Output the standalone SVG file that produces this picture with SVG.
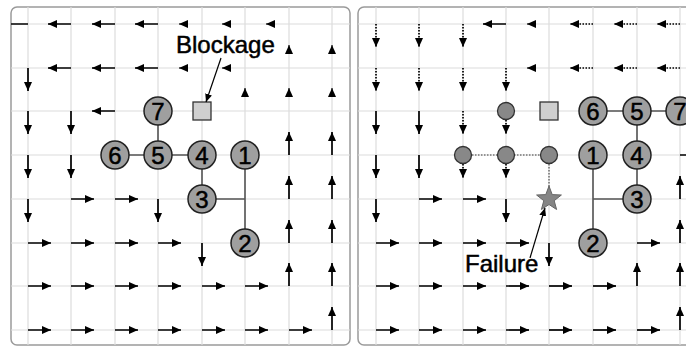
<svg xmlns="http://www.w3.org/2000/svg" width="686" height="346" viewBox="0 0 686 346">
  <defs>
    <marker id="head" markerUnits="userSpaceOnUse" markerWidth="9" markerHeight="8" refX="9" refY="4" orient="auto">
      <path d="M0,0 L9,4 L0,8 Z" fill="#000"/>
    </marker>
    <marker id="head-sm" markerUnits="userSpaceOnUse" markerWidth="8" markerHeight="7" refX="8" refY="3.5" orient="auto">
      <path d="M0,0 L8,3.5 L0,7 Z" fill="#000"/>
    </marker>
    <clipPath id="clip-left"><rect x="11" y="7" width="339" height="338" rx="6"/></clipPath>
    <clipPath id="clip-right"><rect x="358" y="7" width="340" height="338" rx="6"/></clipPath>
  </defs>
  <style>
    .frame { fill: #fff; stroke: #9a9a9a; stroke-width: 1.5; }
    .grid line { stroke: #dcdcdc; stroke-width: 1.2; }
    .flow line { stroke: #000; stroke-width: 1.7; marker-end: url(#head); }
    .flow line.dot { stroke-dasharray: 1.5 1.5; }
    .flow line.short { stroke-width: 1; }
    .link { stroke: #555; stroke-width: 1.6; fill: none; }
    .link.dot { stroke: #777; stroke-dasharray: 1.5 1.5; }
    .node circle { fill: #9f9f9f; stroke: #222; stroke-width: 1.5; }
    .node text { font-family: "Liberation Sans", Arial, sans-serif; font-size: 24px; text-anchor: middle; fill: #000; stroke: #000; stroke-width: 0.5; }
    .ghost circle { fill: #888; stroke: #333; stroke-width: 1.3; }
    .block rect { fill: #cfcfcf; stroke: #333; stroke-width: 1.3; }
    .label { font-family: "Liberation Sans", Arial, sans-serif; font-size: 24px; fill: #000; stroke: #000; stroke-width: 0.5; }
    .pointer { stroke: #000; stroke-width: 1.2; marker-end: url(#head-sm); }
  </style>

  <!-- left panel -->
  <rect class="frame" x="11" y="7" width="339" height="338" rx="6"/>
  <g clip-path="url(#clip-left)">
    <g class="grid">
      <line x1="28" y1="0" x2="28" y2="346"/><line x1="71" y1="0" x2="71" y2="346"/>
      <line x1="115" y1="0" x2="115" y2="346"/><line x1="158" y1="0" x2="158" y2="346"/>
      <line x1="202" y1="0" x2="202" y2="346"/><line x1="245" y1="0" x2="245" y2="346"/>
      <line x1="289" y1="0" x2="289" y2="346"/><line x1="332" y1="0" x2="332" y2="346"/>
      <line x1="0" y1="24" x2="350" y2="24"/><line x1="0" y1="68" x2="350" y2="68"/>
      <line x1="0" y1="111" x2="350" y2="111"/><line x1="0" y1="155" x2="350" y2="155"/>
      <line x1="0" y1="199" x2="350" y2="199"/><line x1="0" y1="243" x2="350" y2="243"/>
      <line x1="0" y1="286" x2="350" y2="286"/><line x1="0" y1="330" x2="350" y2="330"/>
    </g>
    <g class="flow" id="flow-left">
      <!-- row 0 -->
      <line x1="28" y1="24" x2="1" y2="24"/><line x1="71" y1="24" x2="48" y2="24"/>
      <line x1="115" y1="24" x2="92" y2="24"/><line x1="158" y1="24" x2="135" y2="24"/>
      <line class="short" x1="188" y1="24" x2="179" y2="24"/><line class="short" x1="231" y1="24" x2="222" y2="24"/>
      <line class="short" x1="275" y1="24" x2="266" y2="24"/>
      <!-- row 1 -->
      <line x1="28" y1="68" x2="28" y2="91"/><line x1="71" y1="68" x2="48" y2="68"/>
      <line x1="115" y1="68" x2="92" y2="68"/><line x1="158" y1="68" x2="135" y2="68"/>
      <line class="short" x1="188" y1="68" x2="179" y2="68"/><line class="short" x1="231" y1="68" x2="222" y2="68"/>
      <line class="short" x1="289" y1="54" x2="289" y2="45"/><line class="short" x1="332" y1="54" x2="332" y2="45"/>
      <!-- row 2 -->
      <line x1="28" y1="111" x2="28" y2="134"/><line x1="71" y1="111" x2="71" y2="134"/>
      <line x1="115" y1="111" x2="92" y2="111"/>
      <line class="short" x1="245" y1="97" x2="245" y2="88"/><line class="short" x1="289" y1="97" x2="289" y2="88"/>
      <line class="short" x1="332" y1="97" x2="332" y2="88"/>
      <!-- row 3 -->
      <line x1="28" y1="155" x2="28" y2="178"/><line x1="71" y1="155" x2="71" y2="178"/>
      <line x1="289" y1="155" x2="289" y2="132"/><line x1="332" y1="155" x2="332" y2="132"/>
      <!-- row 4 -->
      <line x1="28" y1="199" x2="28" y2="222"/><line x1="71" y1="199" x2="94" y2="199"/>
      <line x1="115" y1="199" x2="138" y2="199"/><line x1="158" y1="199" x2="158" y2="222"/>
      <line x1="289" y1="199" x2="289" y2="176"/><line x1="332" y1="199" x2="332" y2="176"/>
      <!-- row 5 -->
      <line x1="28" y1="243" x2="51" y2="243"/><line x1="71" y1="243" x2="94" y2="243"/>
      <line x1="115" y1="243" x2="138" y2="243"/><line x1="158" y1="243" x2="181" y2="243"/>
      <line x1="202" y1="243" x2="202" y2="266"/>
      <line x1="289" y1="243" x2="289" y2="220"/><line x1="332" y1="243" x2="332" y2="220"/>
      <!-- row 6 -->
      <line x1="28" y1="286" x2="51" y2="286"/><line x1="71" y1="286" x2="94" y2="286"/>
      <line x1="115" y1="286" x2="138" y2="286"/><line x1="158" y1="286" x2="181" y2="286"/>
      <line x1="202" y1="286" x2="225" y2="286"/><line x1="245" y1="286" x2="268" y2="286"/>
      <line x1="289" y1="286" x2="289" y2="263"/><line x1="332" y1="286" x2="332" y2="263"/>
      <!-- row 7 -->
      <line x1="28" y1="330" x2="51" y2="330"/><line x1="71" y1="330" x2="94" y2="330"/>
      <line x1="115" y1="330" x2="138" y2="330"/><line x1="158" y1="330" x2="181" y2="330"/>
      <line x1="202" y1="330" x2="225" y2="330"/><line x1="245" y1="330" x2="268" y2="330"/>
      <line x1="289" y1="330" x2="312" y2="330"/><line x1="332" y1="330" x2="332" y2="307"/>
    </g>
    <g id="links-left">
      <path class="link" d="M158,111 V155 M115,155 H202 M202,155 V199 H245 M245,155 V243"/>
    </g>
    <g id="blockage-left" class="block"><rect x="193" y="102" width="18" height="18"/></g>
    <g id="l-node7" class="node"><circle cx="158" cy="111" r="14"/><text x="158" y="119.5">7</text></g>
    <g id="l-node6" class="node"><circle cx="115" cy="155" r="14"/><text x="115" y="163.5">6</text></g>
    <g id="l-node5" class="node"><circle cx="158" cy="155" r="14"/><text x="158" y="163.5">5</text></g>
    <g id="l-node4" class="node"><circle cx="202" cy="155" r="14"/><text x="202" y="163.5">4</text></g>
    <g id="l-node1" class="node"><circle cx="245" cy="155" r="14"/><text x="245" y="163.5">1</text></g>
    <g id="l-node3" class="node"><circle cx="202" cy="199" r="14"/><text x="202" y="207.5">3</text></g>
    <g id="l-node2" class="node"><circle cx="245" cy="243" r="14"/><text x="245" y="251.5">2</text></g>
    <g id="blockage-label">
      <text class="label" x="176" y="53">Blockage</text>
      <line class="pointer" x1="221" y1="58" x2="206" y2="102"/>
    </g>
  </g>

  <!-- right panel -->
  <rect class="frame" x="358" y="7" width="340" height="338" rx="6"/>
  <g clip-path="url(#clip-right)">
    <g class="grid">
      <line x1="376" y1="0" x2="376" y2="346"/><line x1="419" y1="0" x2="419" y2="346"/>
      <line x1="463" y1="0" x2="463" y2="346"/><line x1="506" y1="0" x2="506" y2="346"/>
      <line x1="549" y1="0" x2="549" y2="346"/><line x1="593" y1="0" x2="593" y2="346"/>
      <line x1="637" y1="0" x2="637" y2="346"/><line x1="680" y1="0" x2="680" y2="346"/>
      <line x1="358" y1="24" x2="700" y2="24"/><line x1="358" y1="68" x2="700" y2="68"/>
      <line x1="358" y1="111" x2="700" y2="111"/><line x1="358" y1="155" x2="700" y2="155"/>
      <line x1="358" y1="199" x2="700" y2="199"/><line x1="358" y1="243" x2="700" y2="243"/>
      <line x1="358" y1="286" x2="700" y2="286"/><line x1="358" y1="330" x2="700" y2="330"/>
    </g>
    <g class="flow" id="flow-right">
      <!-- row 0 -->
      <line class="dot" x1="376" y1="24" x2="376" y2="47"/><line class="dot" x1="419" y1="24" x2="419" y2="47"/>
      <line class="dot" x1="463" y1="24" x2="463" y2="47"/><line x1="506" y1="24" x2="483" y2="24"/>
      <line class="short" x1="536" y1="24" x2="527" y2="24"/>
      <line class="dot" x1="593" y1="24" x2="570" y2="24"/><line class="dot" x1="637" y1="24" x2="614" y2="24"/>
      <line class="dot" x1="680" y1="24" x2="657" y2="24"/>
      <!-- row 1 -->
      <line class="dot" x1="376" y1="68" x2="376" y2="91"/><line class="dot" x1="419" y1="68" x2="419" y2="91"/>
      <line class="dot" x1="463" y1="68" x2="463" y2="91"/><line class="dot" x1="506" y1="68" x2="506" y2="91"/>
      <line class="short" x1="536" y1="68" x2="527" y2="68"/>
      <line class="dot" x1="593" y1="68" x2="570" y2="68"/><line class="dot" x1="637" y1="68" x2="614" y2="68"/>
      <line class="dot" x1="680" y1="68" x2="657" y2="68"/>
      <!-- row 2 -->
      <line x1="376" y1="111" x2="376" y2="134"/><line x1="419" y1="111" x2="419" y2="134"/>
      <line class="dot" x1="463" y1="111" x2="463" y2="134"/><line class="dot" x1="506" y1="111" x2="506" y2="134"/>
      <!-- row 3 -->
      <line x1="376" y1="155" x2="376" y2="178"/><line x1="419" y1="155" x2="419" y2="178"/>
      <line class="dot" x1="463" y1="155" x2="463" y2="178"/><line class="dot" x1="506" y1="155" x2="506" y2="178"/>
      <line x1="680" y1="155" x2="703" y2="155"/>
      <!-- row 4 -->
      <line x1="376" y1="199" x2="376" y2="222"/><line x1="419" y1="199" x2="442" y2="199"/>
      <line x1="463" y1="199" x2="486" y2="199"/><line x1="506" y1="199" x2="506" y2="222"/>
      <line x1="680" y1="199" x2="680" y2="176"/>
      <!-- row 5 -->
      <line x1="376" y1="243" x2="399" y2="243"/><line x1="419" y1="243" x2="442" y2="243"/>
      <line x1="463" y1="243" x2="486" y2="243"/><line x1="506" y1="243" x2="529" y2="243"/>
      <line x1="549" y1="243" x2="549" y2="266"/><line x1="637" y1="243" x2="660" y2="243"/>
      <line x1="680" y1="243" x2="680" y2="220"/>
      <!-- row 6 -->
      <line x1="376" y1="286" x2="399" y2="286"/><line x1="419" y1="286" x2="442" y2="286"/>
      <line x1="463" y1="286" x2="486" y2="286"/><line x1="506" y1="286" x2="529" y2="286"/>
      <line x1="549" y1="286" x2="572" y2="286"/><line x1="593" y1="286" x2="616" y2="286"/>
      <line x1="637" y1="286" x2="637" y2="263"/><line x1="680" y1="286" x2="680" y2="263"/>
      <!-- row 7 -->
      <line x1="376" y1="330" x2="399" y2="330"/><line x1="419" y1="330" x2="442" y2="330"/>
      <line x1="463" y1="330" x2="486" y2="330"/><line x1="506" y1="330" x2="529" y2="330"/>
      <line x1="549" y1="330" x2="572" y2="330"/><line x1="593" y1="330" x2="616" y2="330"/>
      <line x1="637" y1="330" x2="660" y2="330"/><line x1="680" y1="330" x2="680" y2="307"/>
    </g>
    <g id="links-right">
      <path class="link dot" d="M463,155 H549 M549,155 V190"/>
      <path class="link" d="M593,111 H680 M637,111 V199 H593 M593,155 V243"/>
    </g>
    <g id="ghost-a" class="ghost"><circle cx="506" cy="111" r="8.5"/></g>
    <g id="ghost-b" class="ghost"><circle cx="463" cy="155" r="8.5"/></g>
    <g id="ghost-c" class="ghost"><circle cx="506" cy="155" r="8.5"/></g>
    <g id="ghost-d" class="ghost"><circle cx="549" cy="155" r="8.5"/></g>
    <g id="blockage-right" class="block"><rect x="540" y="102" width="18" height="18"/></g>
    <g id="failure">
      <path d="M549,186 L552.2,194.6 L561.4,195 L554.2,200.7 L556.6,209.5 L549,204.5 L541.4,209.5 L543.8,200.7 L536.6,195 L545.8,194.6 Z" fill="#858585" stroke="#666" stroke-width="1"/>
    </g>
    <g id="r-node6" class="node"><circle cx="593" cy="111" r="14"/><text x="593" y="119.5">6</text></g>
    <g id="r-node5" class="node"><circle cx="637" cy="111" r="14"/><text x="637" y="119.5">5</text></g>
    <g id="r-node7" class="node"><circle cx="680" cy="111" r="14"/><text x="680" y="119.5">7</text></g>
    <g id="r-node1" class="node"><circle cx="593" cy="155" r="14"/><text x="593" y="163.5">1</text></g>
    <g id="r-node4" class="node"><circle cx="637" cy="155" r="14"/><text x="637" y="163.5">4</text></g>
    <g id="r-node3" class="node"><circle cx="637" cy="199" r="14"/><text x="637" y="207.5">3</text></g>
    <g id="r-node2" class="node"><circle cx="593" cy="243" r="14"/><text x="593" y="251.5">2</text></g>
    <g id="failure-label">
      <text class="label" x="465" y="272">Failure</text>
      <line class="pointer" x1="530" y1="258" x2="545" y2="208"/>
    </g>
  </g>
</svg>
